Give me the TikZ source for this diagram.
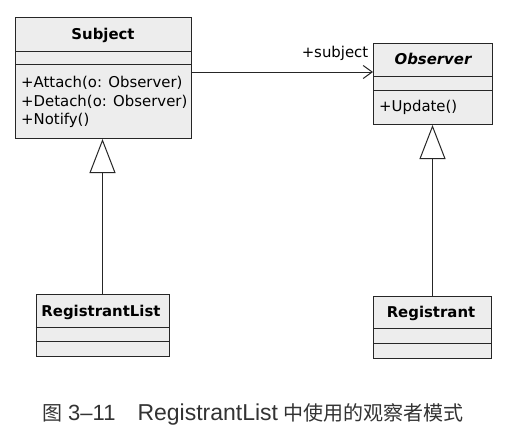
\documentclass[tikz,border=0pt]{standalone}
\usepackage{fontspec}
\setmainfont{DejaVu Sans}
\newfontfamily\cjk{Noto Sans CJK SC}
\newfontfamily\lat{Liberation Sans}
\usetikzlibrary{arrows.meta}
\newcommand\umlsize{\fontsize{14.9}{17}\selectfont}
\begin{document}
\begin{tikzpicture}[x=1pt,y=-1pt,
  cls/.style={draw=black!85, fill=black!7, line width=1pt, inner sep=0pt, anchor=north west},
  div/.style={draw=black!85, line width=1pt},
  title/.style={font=\umlsize\bfseries, anchor=base, inner sep=0pt},
  meth/.style={font=\umlsize, anchor=base west, inner sep=0pt},
  assoc/.style={draw=black!85, line width=1pt, -{Straight Barb[length=9pt,width=13pt]}},
  gen/.style={draw=black!85, line width=1pt, -{Triangle[open,length=34pt,width=26pt,fill=white]}},
]
\useasboundingbox (0,0) rectangle (511,439);
\fill[white] (0,0) rectangle (511,439);

% Subject
\node[cls, minimum width=176pt, minimum height=121pt] (subj) at (15,17) {};
\draw[div] ([yshift=-34pt]subj.north west) -- ([yshift=-34pt]subj.north east);
\draw[div] ([yshift=-47pt]subj.north west) -- ([yshift=-47pt]subj.north east);
\node[title] (subjT) at (103,39) {Subject};
\node[meth] (m1) at (21,87.5) {+Attach(o: Observer)};
\node[meth] (m2) at (21,106) {+Detach(o: Observer)};
\node[meth] (m3) at (21,124.5) {+Notify()};

% Observer
\node[cls, minimum width=119pt, minimum height=81pt] (obs) at (373,43) {};
\draw[div] ([yshift=-33pt]obs.north west) -- ([yshift=-33pt]obs.north east);
\draw[div] ([yshift=-47pt]obs.north west) -- ([yshift=-47pt]obs.north east);
\node[title, font=\umlsize\bfseries\itshape] (obsT) at (433,64) {Observer};
\node[meth] (m4) at (379,111) {+Update()};

% RegistrantList
\node[cls, minimum width=133pt, minimum height=62pt] (rl) at (35.5,294) {};
\draw[div] ([yshift=-33pt]rl.north west) -- ([yshift=-33pt]rl.north east);
\draw[div] ([yshift=-47pt]rl.north west) -- ([yshift=-47pt]rl.north east);
\node[title] (rlT) at (101,316) {RegistrantList};

% Registrant
\node[cls, minimum width=118pt, minimum height=62pt] (reg) at (373,296) {};
\draw[div] ([yshift=-32pt]reg.north west) -- ([yshift=-32pt]reg.north east);
\draw[div] ([yshift=-47pt]reg.north west) -- ([yshift=-47pt]reg.north east);
\node[title] (regT) at (431,317) {Registrant};

% association
\draw[assoc] ([yshift=-55pt]subj.north east) -- ([yshift=-29pt]obs.north west);
\node[font=\umlsize, anchor=base, inner sep=0pt] (lbl) at (335,57) {+subject};

% generalizations
\draw[gen] (rl.north) -- (rl.north |- subj.south);
\draw[gen] (reg.north) -- (reg.north |- obs.south);

% caption
\node[anchor=base west, inner sep=0pt, text=black!80] (cap) at (42,420)
  {{\cjk\fontsize{20}{22}\selectfont 图}\hspace{6pt}{\lat\fontsize{22}{24}\selectfont 3–11}\hspace{22pt}{\lat\fontsize{23}{24}\selectfont RegistrantList}\hspace{5pt}{\cjk\fontsize{20}{22}\selectfont 中使用的观察者模式}};
\end{tikzpicture}
\end{document}
